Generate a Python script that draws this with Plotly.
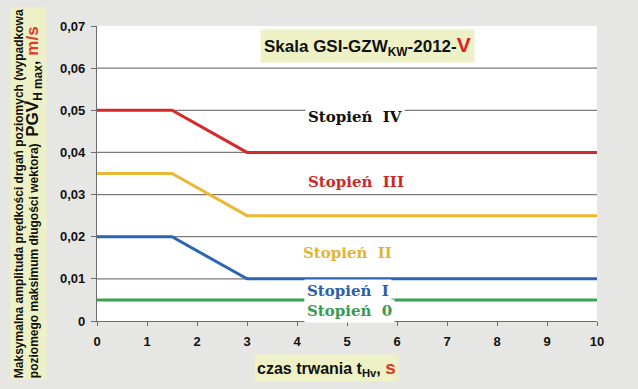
import plotly.graph_objects as go

# ---- data ----
czas = [0, 1.5, 3, 10]
stopien_IV = [0.05, 0.05, 0.04, 0.04]      # red boundary
stopien_III = [0.035, 0.035, 0.025, 0.025]  # yellow boundary
stopien_II = [0.02, 0.02, 0.01, 0.01]       # blue boundary
czas_0 = [0, 10]
stopien_0 = [0.005, 0.005]                  # green boundary

x_ticks = [0, 1, 2, 3, 4, 5, 6, 7, 8, 9, 10]
x_ticktext = ["0", "1", "2", "3", "4", "5", "6", "7", "8", "9", "10"]
y_ticks = [0, 0.01, 0.02, 0.03, 0.04, 0.05, 0.06, 0.07]
y_ticktext = ["0", "0,01", "0,02", "0,03", "0,04", "0,05", "0,06", "0,07"]
grid_vals = [0.01, 0.02, 0.03, 0.04, 0.05, 0.06]

labels = ["Stopień  IV", "Stopień  III", "Stopień  II", "Stopień  I", "Stopień  0"]
label_x = [5.15, 5.18, 5.0, 5.02, 5.05]
label_y = [0.0485, 0.033, 0.0161, 0.0071, 0.0024]
label_colors = ["#111111", "#cc2a2a", "#e2b434", "#2d5ea8", "#3a9a50"]

RED = "#d42a2a"
YEL = "#e9b935"
BLU = "#2b66b1"
GRN = "#3ba150"

fig = go.Figure()
fig.add_trace(go.Scatter(x=czas, y=stopien_IV, mode="lines", line=dict(color=RED, width=3), hoverinfo="skip"))
fig.add_trace(go.Scatter(x=czas, y=stopien_III, mode="lines", line=dict(color=YEL, width=3), hoverinfo="skip"))
fig.add_trace(go.Scatter(x=czas, y=stopien_II, mode="lines", line=dict(color=BLU, width=3), hoverinfo="skip"))
fig.add_trace(go.Scatter(x=czas_0, y=stopien_0, mode="lines", line=dict(color=GRN, width=3), hoverinfo="skip"))

shapes = [dict(type="line", xref="paper", x0=0, x1=1, yref="y", y0=v, y1=v,
               line=dict(color="#7a7a7a", width=1.2), layer="below") for v in grid_vals]

annotations = []
for t, xx, yy, c in zip(labels, label_x, label_y, label_colors):
    annotations.append(dict(x=xx, y=yy, xref="x", yref="y", text="<b>" + t + "</b>",
                            showarrow=False, font=dict(family="DejaVu Serif", size=15, color=c),
                            bgcolor="white", borderpad=2))

annotations.append(dict(x=5.4, y=0.0652, xref="x", yref="y",
                        text="<b>Skala GSI-GZW<sub>KW</sub>-2012-<span style='color:#e02020;font-size:21px'>V</span></b>",
                        showarrow=False, font=dict(family="Liberation Sans, Arial", size=17, color="#111111"),
                        bgcolor="#eef1c6", borderpad=3))

annotations.append(dict(x=4.58, y=-0.159, xref="x", yref="paper", xanchor="center", yanchor="middle",
                        text="<b>czas trwania t<sub>Hv</sub>, <span style='color:#e03a2a;font-size:19px'>s</span></b>",
                        showarrow=False, font=dict(family="Liberation Sans, Arial", size=16, color="#111111"),
                        bgcolor="#eef1c6", borderpad=2))

annotations.append(dict(x=-0.138, y=0.43, xref="paper", yref="paper", textangle=-90,
                        xanchor="center", yanchor="middle",
                        text="<b>Maksymalna amplituda prędkości drgań poziomych (wypadkowa<br>"
                             "poziomego maksimum długości wektora)  "
                             "<span style='font-size:17px'>PGV<sub>H max</sub>, <span style='color:#e03a2a'>m/s</span></span></b>",
                        showarrow=False, align="left",
                        font=dict(family="Liberation Sans Narrow, Arial Narrow, Liberation Sans", size=12, color="#111111"),
                        bgcolor="#eef1c6", borderpad=1))

fig.update_layout(
    width=638, height=389,
    margin=dict(l=97, r=41, t=26, b=68),
    paper_bgcolor="#e6e6e4",
    plot_bgcolor="white",
    showlegend=False,
    shapes=shapes,
    annotations=annotations,
    xaxis=dict(range=[0, 10], tickvals=x_ticks, ticktext=["<b>" + t + "</b>" for t in x_ticktext],
               showgrid=False, zeroline=False,
               showline=True, linecolor="#6e6e6e", linewidth=1.2,
               ticks="outside", ticklen=4, tickcolor="#6e6e6e", ticklabelstandoff=4,
               tickfont=dict(family="Liberation Sans, Arial", size=13, color="#111111"),
               fixedrange=True),
    yaxis=dict(range=[0, 0.07], tickvals=y_ticks, ticktext=["<b>" + t + "</b>" for t in y_ticktext],
               showgrid=False, zeroline=False,
               showline=True, linecolor="#6e6e6e", linewidth=1.2,
               ticks="outside", ticklen=5, tickcolor="#6e6e6e", ticklabelstandoff=3,
               tickfont=dict(family="Liberation Sans, Arial", size=13, color="#111111"),
               fixedrange=True),
)

fig.write_html("out.html", config={"displayModeBar": False},
               post_script="document.body.style.margin='0';")
